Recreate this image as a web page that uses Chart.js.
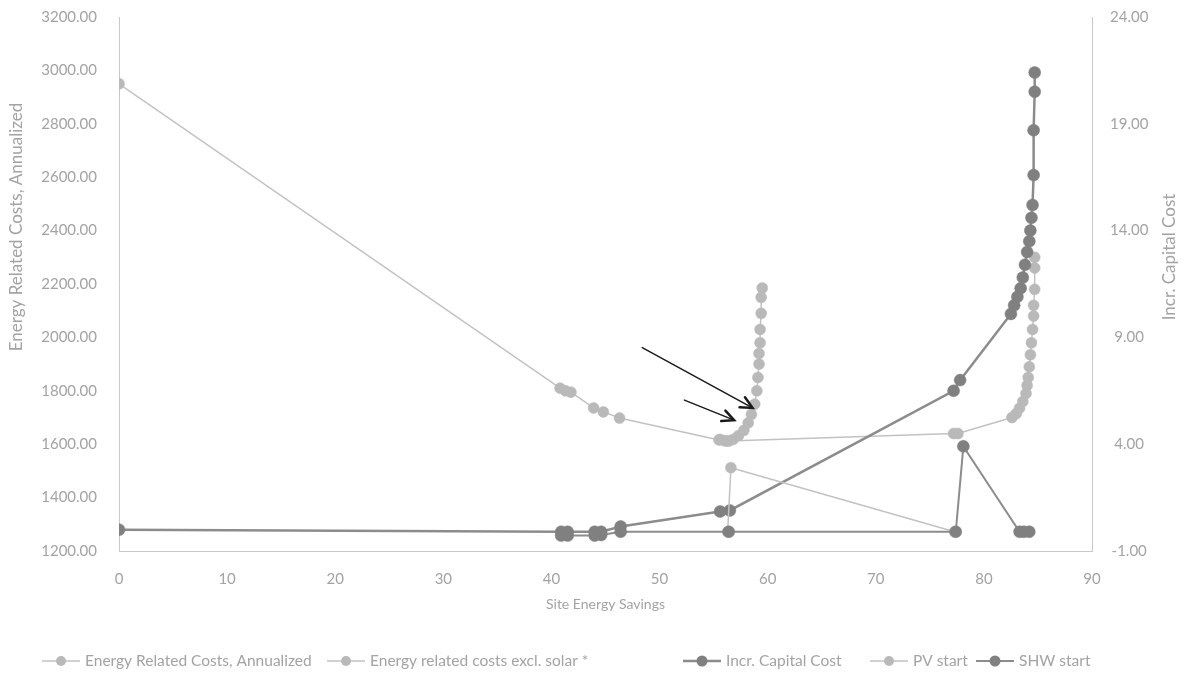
<!DOCTYPE html>
<html>
<head>
<meta charset="utf-8">
<script src="https://cdn.jsdelivr.net/npm/chart.js@4.4.1/dist/chart.umd.min.js"></script>
<style>
  html, body { margin: 0; padding: 0; background: #ffffff; }
  canvas { display: block; }
</style>
</head>
<body>
<canvas id="chart" width="1191" height="692"></canvas>
<script>
// Annualized energy-related costs along the design path (site energy savings, %)
const costSavings = [0, 40.8, 41.3, 41.8, 43.9, 44.8, 46.3, 55.5, 56.0, 56.4,
  77.2, 77.6, 82.6, 83.0, 83.3, 83.6, 83.9, 84.0, 84.1, 84.2, 84.3, 84.4,
  84.5, 84.6, 84.6, 84.7, 84.7, 84.7];
const costValues = [2950, 1810, 1800, 1795, 1736, 1721, 1698, 1616, 1613, 1612,
  1640, 1640, 1700, 1715, 1735, 1760, 1790, 1820, 1850, 1890, 1935, 1980,
  2030, 2080, 2120, 2180, 2260, 2300];

// Energy-related costs excluding solar
const exclSolarSavings = [55.6, 56.2, 56.8, 57.3, 57.8, 58.2, 58.5, 58.8, 59.0,
  59.1, 59.2, 59.2, 59.3, 59.3, 59.4, 59.4, 59.5];
const exclSolarValues = [1618, 1612, 1618, 1632, 1652, 1680, 1712, 1750, 1800,
  1850, 1900, 1940, 1980, 2030, 2090, 2150, 2185];

// Incremental capital cost (right axis)
const capitalSavings = [0, 40.9, 41.5, 44.0, 44.6, 46.4, 55.6, 56.5, 77.2, 77.8,
  82.5, 82.8, 83.1, 83.4, 83.6, 83.8, 84.0, 84.2, 84.3, 84.4, 84.5, 84.6,
  84.6, 84.7, 84.7];
const capitalValues = [0, -0.1, -0.1, -0.1, -0.1, 0.15, 0.85, 0.9, 6.5, 7.0,
  10.1, 10.5, 10.9, 11.3, 11.8, 12.4, 13.0, 13.5, 14.0, 14.6, 15.2, 16.6,
  18.7, 20.5, 21.4];

// PV start marker series (right axis)
const pvSavings = [56.3, 56.6, 77.3];
const pvValues = [-0.1, 2.9, -0.1];

// SHW start marker series (right axis)
const shwSavings = [40.9, 41.5, 44.0, 44.6, 46.4, 56.4, 77.4, 78.1, 83.3, 83.7, 84.2];
const shwValues = [-0.28, -0.28, -0.28, -0.25, -0.1, -0.1, -0.1, 3.9, -0.1, -0.1, -0.1];

// Axis ticks
const savingsTicks = [0, 10, 20, 30, 40, 50, 60, 70, 80, 90];
const costTicks = [1200, 1400, 1600, 1800, 2000, 2200, 2400, 2600, 2800, 3000, 3200];
const capitalTicks = [-1, 4, 9, 14, 19, 24];

// Series names
const seriesNames = [
  'Energy Related Costs, Annualized',
  'Energy related costs excl. solar *',
  'Incr. Capital Cost',
  'PV start',
  'SHW start'
];

// Callout arrows, in data coordinates (x: savings, y: left-axis cost)
const arrowNotes = [
  { from: [48.4, 1962], to: [58.6, 1736] },
  { from: [52.3, 1765], to: [56.9, 1690] }
];

const LIGHT_LINE = '#c2c2c2';
const LIGHT_DOT = '#b9b9b9';
const DARK_LINE = '#8c8c8c';
const DARK_DOT = '#808080';
const TEXT = '#a3a3a3';
const AXIS = '#c8c8c8';
const FONT = 'Lato, "Open Sans", sans-serif';

const pts = (xs, ys) => xs.map((x, i) => ({ x, y: ys[i] }));

const seriesStyle = [
  { line: LIGHT_LINE, dot: LIGHT_DOT, width: 1.5, r: 5.5 },
  { line: LIGHT_LINE, dot: LIGHT_DOT, width: 1.5, r: 5.5 },
  { line: DARK_LINE, dot: DARK_DOT, width: 2.5, r: 6 },
  { line: LIGHT_LINE, dot: LIGHT_DOT, width: 1.5, r: 5.5 },
  { line: DARK_LINE, dot: DARK_DOT, width: 2, r: 6 }
];

function makeSet(i, data, axis) {
  const s = seriesStyle[i];
  return {
    label: seriesNames[i],
    data,
    yAxisID: axis,
    showLine: true,
    borderColor: s.line,
    borderWidth: s.width,
    pointRadius: s.r,
    pointBackgroundColor: s.dot,
    pointBorderColor: s.dot,
    pointBorderWidth: 0.5,
    order: 10 - i
  };
}

// Axis titles placed beside the value axes
const axisTitles = {
  id: 'axisTitles',
  afterDraw(chart) {
    const ctx = chart.ctx;
    ctx.save();
    ctx.fillStyle = TEXT;
    ctx.textAlign = 'center';
    ctx.textBaseline = 'middle';
    ctx.font = '17px ' + FONT;
    ctx.translate(17, 227);
    ctx.rotate(-Math.PI / 2);
    ctx.fillText('Energy Related Costs, Annualized', 0, 0);
    ctx.restore();

    ctx.save();
    ctx.fillStyle = TEXT;
    ctx.textAlign = 'center';
    ctx.textBaseline = 'middle';
    ctx.font = '17px ' + FONT;
    ctx.translate(1170, 257);
    ctx.rotate(-Math.PI / 2);
    ctx.fillText('Incr. Capital Cost', 0, 0);
    ctx.restore();
  }
};

// Line-and-marker legend along the bottom
const lineLegend = {
  id: 'lineLegend',
  afterDraw(chart) {
    const ctx = chart.ctx;
    const starts = [42, 327, 683, 870, 976];
    const y = 661;
    ctx.save();
    ctx.font = '15.5px ' + FONT;
    ctx.textBaseline = 'middle';
    ctx.textAlign = 'left';
    seriesNames.forEach((name, i) => {
      const s = seriesStyle[i];
      const x0 = starts[i];
      ctx.strokeStyle = s.line;
      ctx.lineWidth = s.width;
      ctx.beginPath();
      ctx.moveTo(x0, y);
      ctx.lineTo(x0 + 38, y);
      ctx.stroke();
      ctx.fillStyle = s.dot;
      ctx.beginPath();
      ctx.arc(x0 + 19, y, s.r - 0.5, 0, Math.PI * 2);
      ctx.fill();
      ctx.fillStyle = TEXT;
      ctx.fillText(name, x0 + 43, y);
    });
    ctx.restore();
  }
};

// Callout arrows pointing at the solar branch
const calloutArrows = {
  id: 'calloutArrows',
  afterDatasetsDraw(chart) {
    const xs = chart.scales.x;
    const ys = chart.scales.y;
    const ctx = chart.ctx;
    ctx.save();
    ctx.strokeStyle = '#1a1a1a';
    ctx.lineCap = 'round';
    arrowNotes.forEach(a => {
      const x1 = xs.getPixelForValue(a.from[0]);
      const y1 = ys.getPixelForValue(a.from[1]);
      const x2 = xs.getPixelForValue(a.to[0]);
      const y2 = ys.getPixelForValue(a.to[1]);
      ctx.lineWidth = 1.5;
      ctx.beginPath();
      ctx.moveTo(x1, y1);
      ctx.lineTo(x2, y2);
      ctx.stroke();
      const ang = Math.atan2(y2 - y1, x2 - x1);
      const len = 13;
      ctx.lineWidth = 2.5;
      ctx.beginPath();
      ctx.moveTo(x2 - len * Math.cos(ang - 0.45), y2 - len * Math.sin(ang - 0.45));
      ctx.lineTo(x2, y2);
      ctx.lineTo(x2 - len * Math.cos(ang + 0.45), y2 - len * Math.sin(ang + 0.45));
      ctx.stroke();
    });
    ctx.restore();
  }
};

// Fixed scale boxes so the plot area sits at a set place on the canvas
const fixVertical = w => s => { s.width = w; s.paddingTop = 0; s.paddingBottom = 0; };

Chart.defaults.font.family = FONT;
Chart.defaults.color = TEXT;

new Chart(document.getElementById('chart'), {
  type: 'scatter',
  data: {
    datasets: [
      makeSet(0, pts(costSavings, costValues), 'y'),
      makeSet(1, pts(exclSolarSavings, exclSolarValues), 'y'),
      makeSet(2, pts(capitalSavings, capitalValues), 'y2'),
      makeSet(3, pts(pvSavings, pvValues), 'y2'),
      makeSet(4, pts(shwSavings, shwValues), 'y2')
    ]
  },
  options: {
    responsive: false,
    animation: false,
    layout: { padding: { top: 17, left: 0, right: 0, bottom: 0 } },
    plugins: {
      legend: { display: false },
      tooltip: { enabled: false }
    },
    scales: {
      x: {
        type: 'linear',
        position: 'bottom',
        min: 0,
        max: 90,
        afterBuildTicks: s => { s.ticks = savingsTicks.map(v => ({ value: v })); },
        grid: { display: false, drawTicks: false },
        border: { display: true, color: AXIS, width: 1, dash: [2, 2] },
        ticks: { padding: 19, font: { size: 15 }, color: TEXT },
        title: {
          display: true,
          text: 'Site Energy Savings',
          color: TEXT,
          font: { size: 14 },
          padding: { top: 4, bottom: 79 }
        },
        afterFit: s => { s.height = 141; s.paddingLeft = 0; s.paddingRight = 0; }
      },
      y: {
        type: 'linear',
        position: 'left',
        min: 1200,
        max: 3200,
        afterBuildTicks: s => { s.ticks = costTicks.map(v => ({ value: v })); },
        grid: { display: false, drawTicks: false },
        border: { display: true, color: AXIS, width: 1, dash: [2, 2] },
        ticks: { padding: 22, font: { size: 15 }, color: TEXT, callback: v => v.toFixed(2) },
        afterFit: fixVertical(119)
      },
      y2: {
        type: 'linear',
        position: 'right',
        min: -1,
        max: 24,
        afterBuildTicks: s => { s.ticks = capitalTicks.map(v => ({ value: v })); },
        grid: { display: false, drawTicks: false },
        border: { display: true, color: AXIS, width: 1, dash: [2, 2] },
        ticks: { padding: 18, crossAlign: 'center', font: { size: 15 }, color: TEXT, callback: v => v.toFixed(2) },
        afterFit: fixVertical(99)
      }
    }
  },
  plugins: [calloutArrows, axisTitles, lineLegend]
});
</script>
</body>
</html>
